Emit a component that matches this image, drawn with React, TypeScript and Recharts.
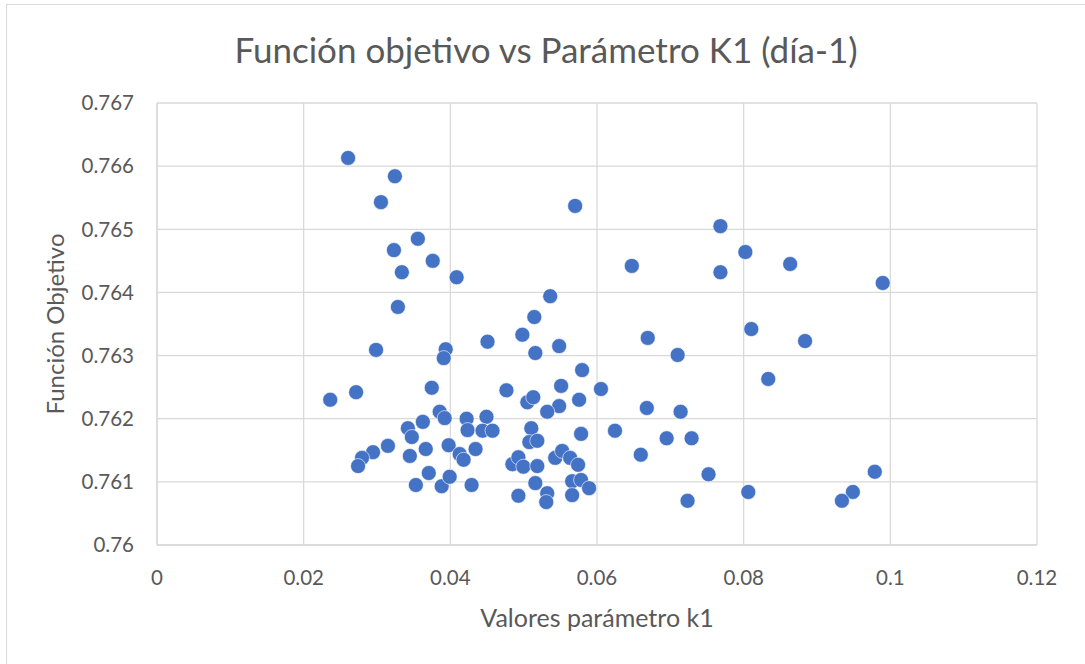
import React from 'react';
import { ScatterChart, Scatter, XAxis, YAxis, CartesianGrid } from 'recharts';

// valores (k1 vs función objetivo)
const k1Values = [
  0.02606, 0.03244, 0.03054, 0.03557, 0.03231, 0.0376, 0.03339, 0.04086, 0.03285, 0.02987,
  0.03937, 0.0391, 0.04507, 0.04982, 0.05145, 0.05362, 0.05159, 0.05484, 0.05702, 0.05797,
  0.02362, 0.02715, 0.03747, 0.04765, 0.0505, 0.05131, 0.05511, 0.06054, 0.05756, 0.05484,
  0.05321, 0.03855, 0.03923, 0.04222, 0.04493, 0.03421, 0.03625, 0.03475, 0.04235, 0.04439,
  0.04575, 0.05104, 0.05077, 0.05186, 0.05783, 0.06245, 0.03149, 0.02946, 0.02796, 0.02742,
  0.03448, 0.03665, 0.03977, 0.04127, 0.04181, 0.04344, 0.04846, 0.04928, 0.04996, 0.05186,
  0.0543, 0.05525, 0.05634, 0.05742, 0.03706, 0.0353, 0.03882, 0.03991, 0.0429, 0.05159,
  0.04928, 0.05321, 0.05308, 0.05661, 0.05783, 0.05892, 0.05661, 0.07683, 0.08023, 0.06475,
  0.07683, 0.08634, 0.09896, 0.08104, 0.06692, 0.08837, 0.071, 0.08335, 0.06679, 0.0714,
  0.0695, 0.0729, 0.06597, 0.09788, 0.07521, 0.08063, 0.09489, 0.0934, 0.07235,
];

const objValues = [
  0.76613, 0.76584, 0.76543, 0.76485, 0.76467, 0.7645, 0.76432, 0.76424, 0.76377, 0.76309,
  0.7631, 0.76296, 0.76322, 0.76333, 0.76361, 0.76394, 0.76304, 0.76315, 0.76537, 0.76277,
  0.7623, 0.76242, 0.76249, 0.76245, 0.76226, 0.76234, 0.76252, 0.76247, 0.7623, 0.7622,
  0.76211, 0.76211, 0.76201, 0.762, 0.76203, 0.76185, 0.76195, 0.76171, 0.76182, 0.76181,
  0.76181, 0.76185, 0.76163, 0.76165, 0.76176, 0.76181, 0.76157, 0.76147, 0.76138, 0.76125,
  0.76141, 0.76152, 0.76158, 0.76144, 0.76135, 0.76152, 0.76128, 0.76139, 0.76124, 0.76125,
  0.76138, 0.76149, 0.76138, 0.76127, 0.76114, 0.76095, 0.76093, 0.76108, 0.76095, 0.76098,
  0.76078, 0.76082, 0.76068, 0.76101, 0.76103, 0.7609, 0.76079, 0.76505, 0.76464, 0.76442,
  0.76432, 0.76445, 0.76415, 0.76342, 0.76328, 0.76323, 0.76301, 0.76263, 0.76217, 0.76211,
  0.76169, 0.76169, 0.76143, 0.76116, 0.76112, 0.76084, 0.76084, 0.7607, 0.7607,
];

const xTicks = [0, 0.02, 0.04, 0.06, 0.08, 0.1, 0.12];
const yTicks = [0.76, 0.761, 0.762, 0.763, 0.764, 0.765, 0.766, 0.767];

const data = k1Values.map((k1, i) => ({ k1, obj: objValues[i] }));

const FONT = 'Lato, "Open Sans", sans-serif';
const TEXT = '#595959';
const GRID = '#d9d9d9';

const fmt = (v: number) => String(Number(v.toFixed(3)));

const Dot = (props: any) => (
  <circle cx={props.cx} cy={props.cy} r={7.5} fill="#4472C4" stroke="#ffffff" strokeWidth={0.6} />
);

export default function App() {
  return (
    <div
      style={{
        position: 'absolute',
        left: 0,
        top: 0,
        width: 1085,
        height: 664,
        overflow: 'hidden',
        background: '#fff',
        fontFamily: FONT,
      }}
    >
      <div
        style={{
          position: 'absolute',
          left: 6,
          top: 4,
          width: 1095,
          height: 659,
          border: `1px solid ${GRID}`,
        }}
      />
      <div
        style={{
          position: 'absolute',
          left: 0,
          width: 1085,
          top: 27,
          textAlign: 'center',
          fontSize: 35,
          color: TEXT,
          lineHeight: '44px',
          paddingLeft: 7,
          boxSizing: 'border-box',
          whiteSpace: 'nowrap',
        }}
      >
        Función objetivo vs Parámetro K1 (día-1)
      </div>
      <div
        style={{
          position: 'absolute',
          left: 157,
          width: 880,
          top: 602,
          textAlign: 'center',
          fontSize: 25,
          color: TEXT,
          lineHeight: '30px',
        }}
      >
        Valores parámetro k1
      </div>
      <div
        style={{
          position: 'absolute',
          left: 55 - 130,
          top: 324 - 15,
          width: 260,
          height: 30,
          lineHeight: '30px',
          textAlign: 'center',
          fontSize: 24,
          color: TEXT,
          transform: 'rotate(-90deg)',
          whiteSpace: 'nowrap',
        }}
      >
        Función Objetivo
      </div>
      <div style={{ position: 'absolute', left: 0, top: 0 }}>
        <ScatterChart width={1085} height={664} margin={{ top: 103, right: 48, bottom: 89, left: 77 }}>
          <CartesianGrid stroke={GRID} strokeWidth={1.3} />
          <XAxis
            type="number"
            dataKey="k1"
            domain={[0, 0.12]}
            ticks={xTicks}
            tickFormatter={fmt}
            height={30}
            tickSize={0}
            tickMargin={25}
            axisLine={{ stroke: GRID, strokeWidth: 1.3 }}
            tickLine={false}
            tick={{ fill: TEXT, fontSize: 20.5, fontFamily: FONT }}
            allowDataOverflow
          />
          <YAxis
            type="number"
            dataKey="obj"
            domain={[0.76, 0.767]}
            ticks={yTicks}
            tickFormatter={fmt}
            width={80}
            tickSize={0}
            tickMargin={23}
            axisLine={{ stroke: GRID, strokeWidth: 1.3 }}
            tickLine={false}
            tick={{ fill: TEXT, fontSize: 20.5, fontFamily: FONT }}
            allowDataOverflow
          />
          <Scatter data={data} shape={Dot} isAnimationActive={false} />
        </ScatterChart>
      </div>
    </div>
  );
}
